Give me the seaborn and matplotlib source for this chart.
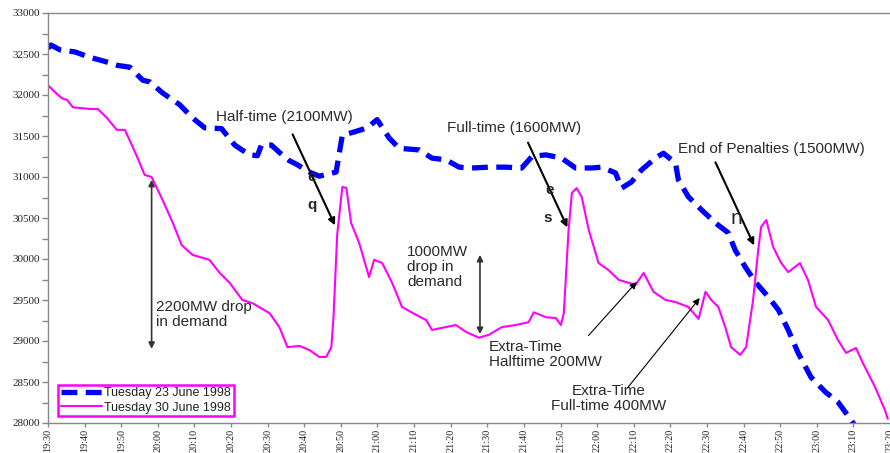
import matplotlib
matplotlib.use("Agg")
import matplotlib.pyplot as plt
import seaborn as sns
import pandas as pd

# minutes after 19:30 and demand (MW)
june23_min = [0, 0.8, 3.3, 7.4, 11.4, 15.5, 19.1, 22.3, 25.9, 27.8, 31.3, 36.0, 39.5, 42.8,
              47.4, 51.0, 55.0, 57.2, 58.3, 61.0, 63.2, 65.9, 68.1, 71.4, 74.1, 76.8, 78.7,
              80.4, 83.7, 87.2, 89.9, 93.2, 95.9, 101.4, 104.9, 108.7, 112.3, 115.8, 120.4,
              125.1, 129.4, 132.2, 136.0, 140.3, 144.1, 148.5, 151.2, 155.0, 156.7, 159.4,
              162.1, 165.9, 168.1, 171.4, 172.2, 174.9, 178.5, 182.3, 185.8, 187.7, 190.5,
              193.2, 196.7, 199.5, 202.2, 204.9, 208.4, 212.3, 215.8, 219.3, 220.7]
june23_mw = [32570, 32610, 32550, 32525, 32460, 32410, 32360, 32340, 32180, 32160, 32025,
             31880, 31720, 31600, 31590, 31390, 31270, 31260, 31390, 31390, 31300, 31200,
             31150, 31060, 31010, 31040, 31060, 31510, 31550, 31600, 31700, 31475, 31350,
             31330, 31230, 31210, 31120, 31110, 31120, 31120, 31110, 31250, 31270, 31230,
             31110, 31110, 31120, 31050, 30865, 30940, 31085, 31230, 31290, 31170, 30965,
             30760, 30600, 30440, 30320, 30110, 29900, 29720, 29540, 29380, 29135, 28855,
             28560, 28380, 28255, 28040, 27950]

june30_min = [0, 1.9, 3.8, 5.2, 6.8, 11.4, 13.6, 16.1, 18.8, 21.0, 22.9, 24.5, 26.4, 28.3,
              31.3, 34.1, 36.5, 39.5, 44.1, 46.9, 49.6, 53.1, 55.9, 60.5, 63.2, 65.4, 68.7,
              71.4, 74.1, 76.0, 77.4, 78.0, 79.0, 80.4, 81.5, 82.8, 85.0, 87.7, 89.1, 91.3,
              94.0, 96.7, 100.5, 103.3, 104.9, 107.6, 111.4, 114.2, 117.7, 120.4, 124.0,
              127.8, 131.3, 132.7, 136.0, 138.7, 140.1, 140.9, 142.2, 143.1, 144.4, 145.8,
              147.7, 150.4, 153.1, 155.9, 160.5, 162.7, 165.4, 168.7, 171.4, 174.9, 177.7,
              179.6, 181.2, 183.1, 185.0, 186.6, 189.1, 190.7, 192.6, 194.0, 194.8, 196.2,
              198.1, 200.3, 202.2, 205.4, 207.6, 209.8, 213.1, 215.8, 218.0, 220.7, 222.6,
              225.9, 228.6, 229.4]
june30_mw = [32120, 32035, 31960, 31940, 31850, 31830, 31830, 31720, 31575, 31575, 31390,
             31230, 31025, 31000, 30720, 30440, 30170, 30050, 29990, 29830, 29710, 29500,
             29460, 29340, 29170, 28925, 28940, 28890, 28805, 28805, 28925, 29300, 30300,
             30880, 30865, 30440, 30195, 29780, 29990, 29950, 29710, 29415, 29320, 29255,
             29135, 29160, 29195, 29110, 29040, 29075, 29170, 29195, 29230, 29350, 29290,
             29280, 29195, 29340, 30355, 30805, 30865, 30755, 30355, 29950, 29865, 29745,
             29685, 29830, 29600, 29500, 29475, 29415, 29270, 29600, 29500, 29415, 29170,
             28925, 28830, 28925, 29500, 30110, 30390, 30475, 30145, 29950, 29840, 29950,
             29745, 29415, 29255, 29010, 28855, 28915, 28730, 28440, 28160, 28050]

tick_min = list(range(0, 231, 10))
tick_labels = ["%d:%02d" % ((19 * 60 + 30 + m) // 60, (19 * 60 + 30 + m) % 60) for m in tick_min]

df23 = pd.DataFrame({"t": june23_min, "mw": june23_mw})
df30 = pd.DataFrame({"t": june30_min, "mw": june30_mw})

sns.set_style("white")
plt.rcParams["font.family"] = ["Liberation Sans", "DejaVu Sans"]

fig = plt.figure(figsize=(8.9, 4.53), dpi=100)
ax = fig.add_axes([48 / 890, 1 - 423 / 453, 842 / 890, 410 / 453])

sns.lineplot(data=df23, x="t", y="mw", ax=ax, color="#0000ff", linewidth=3.8,
             linestyle=(0, (3, 1.6)), errorbar=None, label="Tuesday 23 June 1998")
sns.lineplot(data=df30, x="t", y="mw", ax=ax, color="#ff00ff", linewidth=1.5,
             errorbar=None, label="Tuesday 30 June 1998")

ax.set_xlim(0, 230)
ax.set_ylim(28000, 33000)
ax.set_xlabel("")
ax.set_ylabel("")
ax.set_xticks(tick_min)
ax.set_xticklabels(tick_labels, rotation=90, family="Liberation Serif", fontsize=7.3)
ax.set_yticks(range(28000, 33001, 500))
ax.set_yticks(range(28250, 33000, 500), minor=True)
ax.set_yticklabels([str(v) for v in range(28000, 33001, 500)], family="Liberation Serif", fontsize=8)
ax.tick_params(axis="both", which="both", direction="out", color="#888888", length=4,
               width=1, labelcolor="#222222", pad=1.5, left=True, bottom=True)
ax.tick_params(axis="x", length=3, pad=1)
for side in ["left", "bottom", "top"]:
    ax.spines[side].set_color("#888888")
    ax.spines[side].set_linewidth(1)
ax.spines["right"].set_visible(False)

leg = ax.legend(loc="lower left", bbox_to_anchor=(0.012, 0.017), borderaxespad=0,
                fontsize=9, handlelength=3.3, fancybox=False, framealpha=1,
                borderpad=0.2, labelspacing=0.2, handletextpad=0.2)
leg.get_frame().set_edgecolor("#ff00ff")
leg.get_frame().set_linewidth(1.8)
for txt in leg.get_texts():
    txt.set_color("#222222")

txt_kw = dict(fontsize=11, color="#2a2a2a")
head = dict(arrowstyle="-|>", color="black", lw=1.5, mutation_scale=10)
thin = dict(arrowstyle="-|>", color="black", lw=0.8, mutation_scale=10)
both = dict(arrowstyle="<|-|>", color="#333333", lw=1.2, mutation_scale=9)

ax.text(46.0, 31730, "Half-time (2100MW)", va="center", **txt_kw)
ax.annotate("", xy=(78.7, 30380), xytext=(66.5, 31550), arrowprops=head)
ax.text(71.9, 31000, "e", ha="center", va="center", fontsize=11, fontweight="bold")
ax.text(72.2, 30660, "q", ha="center", va="center", fontsize=11, fontweight="bold")

ax.text(109.0, 31600, "Full-time (1600MW)", va="center", **txt_kw)
ax.annotate("", xy=(142.2, 30355), xytext=(130.8, 31450), arrowprops=head)
ax.text(137.1, 30840, "e", ha="center", va="center", fontsize=11, fontweight="bold")
ax.text(136.5, 30500, "s", ha="center", va="center", fontsize=11, fontweight="bold")

ax.text(172.2, 31340, "End of Penalties (1500MW)", va="center", **txt_kw)
ax.annotate("", xy=(193.2, 30135), xytext=(182.0, 31210), arrowprops=head)
ax.text(188.0, 30500, "n", ha="center", va="center", fontsize=15)

ax.annotate("", xy=(28.3, 28870), xytext=(28.3, 31000), arrowprops=both)
ax.text(29.4, 29500, "2200MW drop\nin demand", va="top", linespacing=1.1, **txt_kw)

ax.annotate("", xy=(118.0, 29050), xytext=(118.0, 30085), arrowprops=both)
ax.text(98.1, 30170, "1000MW\ndrop in\ndemand", va="top", linespacing=1.1, **txt_kw)

ax.text(120.4, 29010, "Extra-Time\nHalftime 200MW", va="top", linespacing=1.1, **txt_kw)
ax.annotate("", xy=(161.3, 29745), xytext=(147.1, 29040), arrowprops=thin)

ax.text(153.1, 28480, "Extra-Time\nFull-time 400MW", va="top", ha="center",
        linespacing=1.1, **txt_kw)
ax.annotate("", xy=(178.5, 29550), xytext=(157.8, 28400), arrowprops=thin)

fig.savefig("out.png", dpi=100)
